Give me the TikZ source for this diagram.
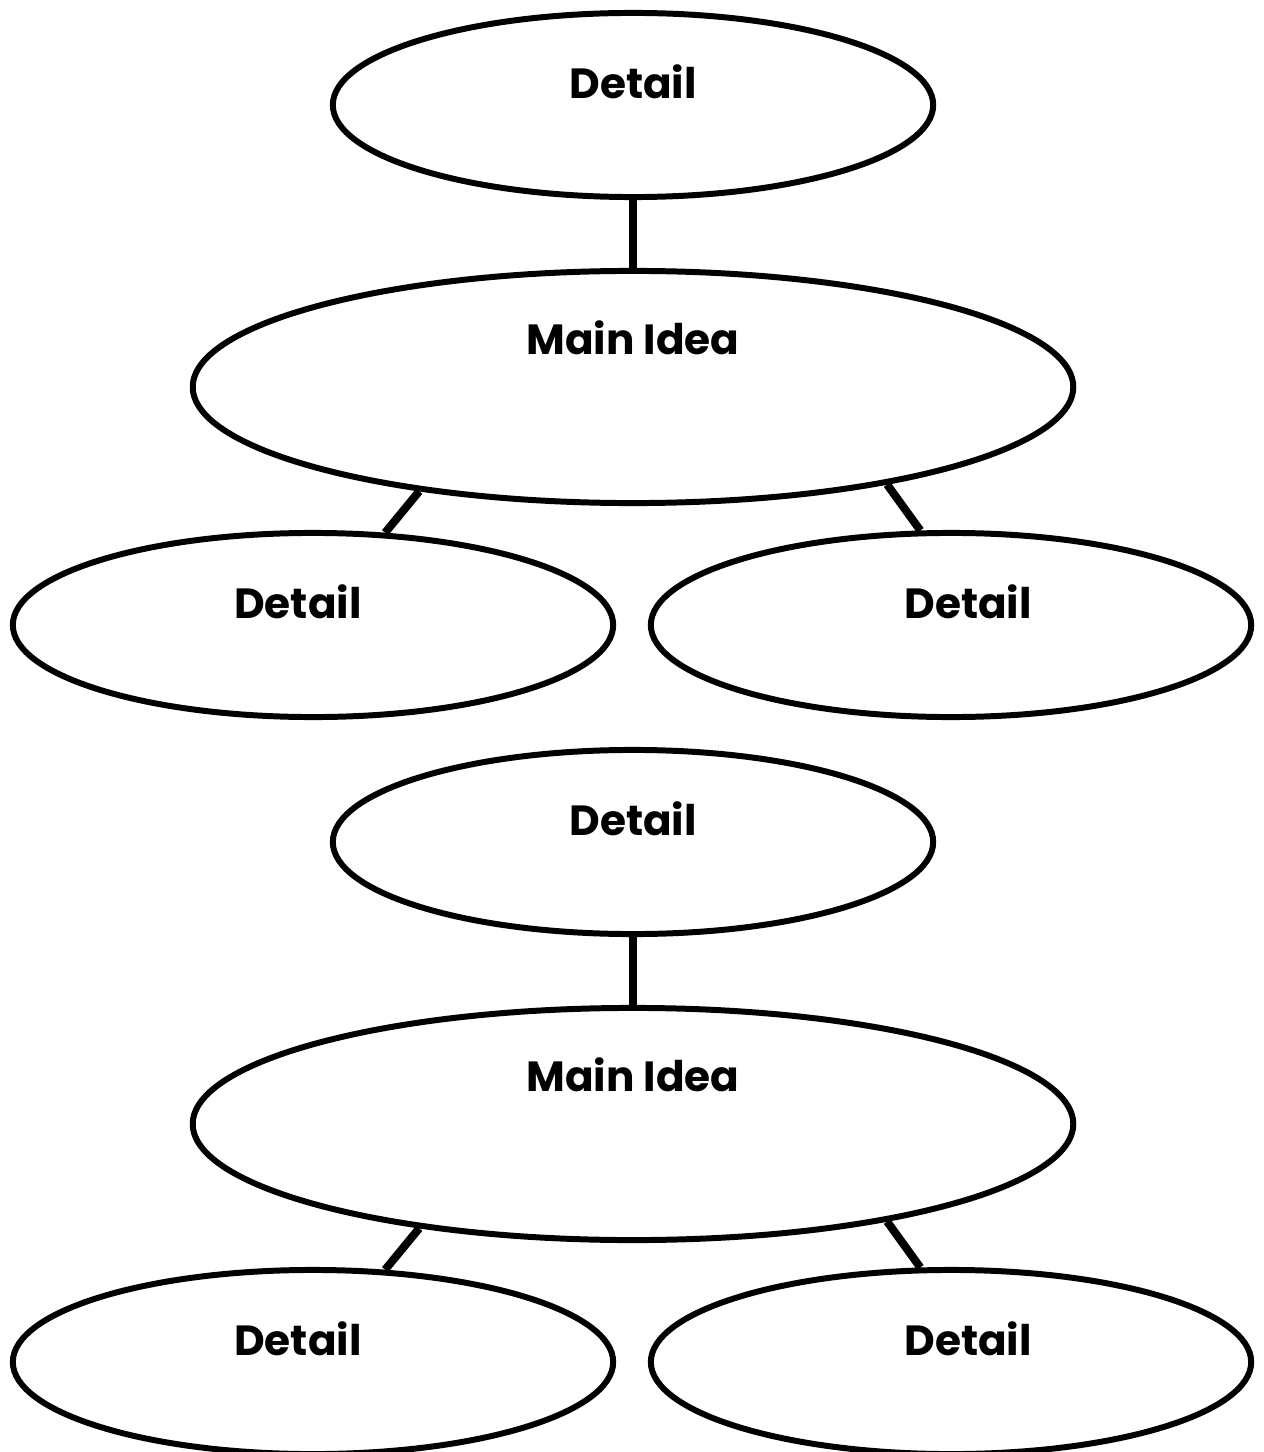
\documentclass[tikz,border=0pt]{standalone}
\usepackage{fontspec}
\setmainfont{Poppins}
\usetikzlibrary{positioning, shapes.geometric}

\begin{document}
\begin{tikzpicture}[
    x=0.01cm, y=-0.01cm,
    line width=1.7pt,
    % --- BUBBLE STYLES ---
    bubble/.style={ellipse, draw, inner sep=0pt, minimum width=6cm, minimum height=1.84cm},
    mainbubble/.style={bubble, minimum width=8.8cm, minimum height=2.32cm},
    caption/.style={font=\fontsize{12}{14}\selectfont\bfseries},
    link/.style={line width=2pt},
    slant/.style={line width=2.3pt}
]
\useasboundingbox (0,0) rectangle (1263,1452);

% --- 1. UPPER GROUP ---
\node (topA) [bubble, label={[caption, yshift=0.23cm]center:Detail}] at (633,105) {};
\node (mainA) [mainbubble, label={[caption, yshift=0.49cm]center:Main Idea}] at (633,387) {};
\node (leftA) [bubble, label={[caption, yshift=0.23cm, xshift=-0.15cm]center:Detail}] at (313,625) {};
\node (rightA) [bubble, label={[caption, yshift=0.23cm, xshift=0.17cm]center:Detail}] at (951,625) {};

% --- 2. LOWER GROUP ---
\node (topB) [bubble, label={[caption, yshift=0.23cm]center:Detail}] at (633,842) {};
\node (mainB) [mainbubble, label={[caption, yshift=0.49cm]center:Main Idea}] at (633,1124) {};
\node (leftB) [bubble, label={[caption, yshift=0.23cm, xshift=-0.15cm]center:Detail}] at (313,1362) {};
\node (rightB) [bubble, label={[caption, yshift=0.23cm, xshift=0.17cm]center:Detail}] at (951,1362) {};

% --- LINKS ---
\draw [link] (topA.south) -- (mainA.north);
\draw [slant] (mainA.206.5) -- (leftA.52);
\draw [slant] (mainA.-21.6) -- (rightA.108);

\draw [link] (topB.south) -- (mainB.north);
\draw [slant] (mainB.206.5) -- (leftB.52);
\draw [slant] (mainB.-21.6) -- (rightB.108);

\end{tikzpicture}
\end{document}
